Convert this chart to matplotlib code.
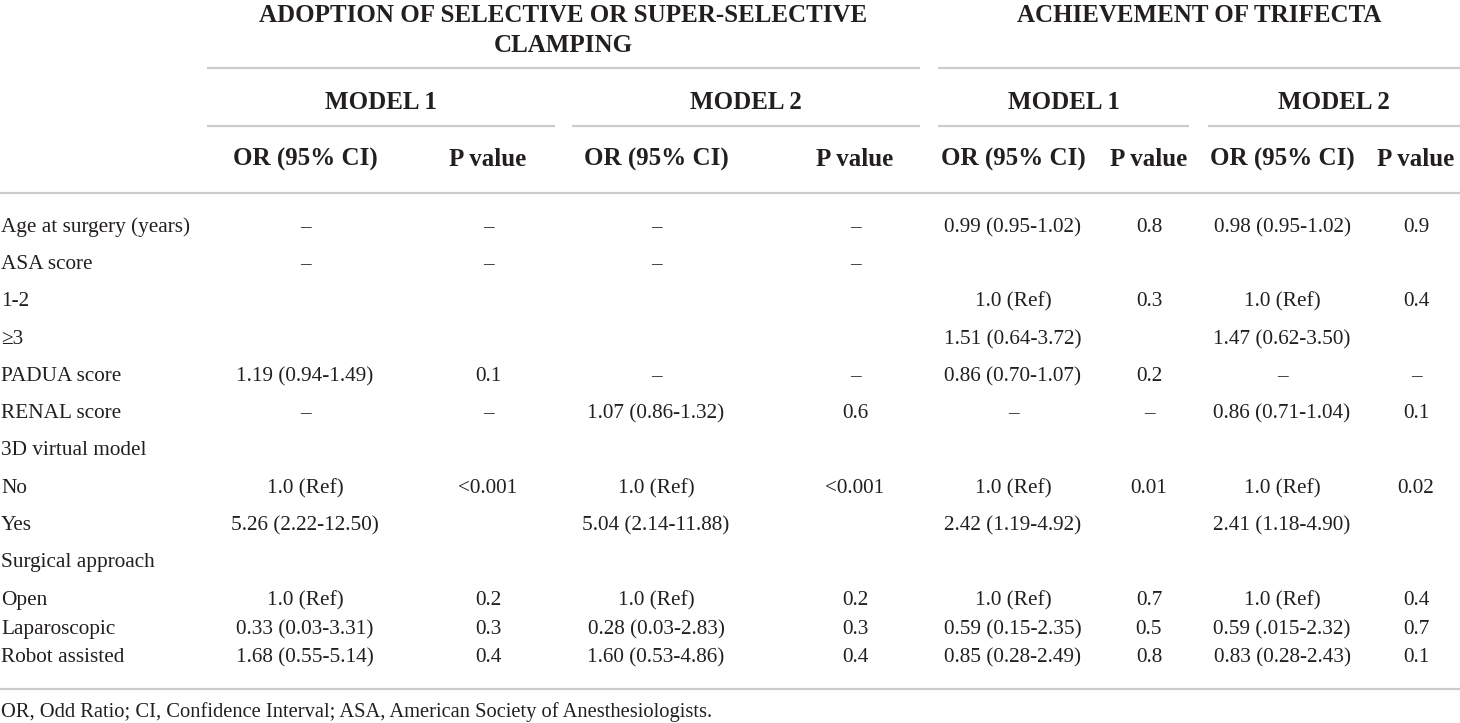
import matplotlib
matplotlib.use("Agg")
import matplotlib.pyplot as plt

plt.rcParams['font.family'] = ['Liberation Serif', 'DejaVu Serif']

# table content
row_labels = ["Age at surgery (years)", "ASA score", "1-2", "≥3", "PADUA score",
              "RENAL score", "3D virtual model", "No", "Yes", "Surgical approach",
              "Open", "Laparoscopic", "Robot assisted"]

sel_m1_or = ["–", "–", "", "", "1.19 (0.94-1.49)", "–", "", "1.0 (Ref)",
             "5.26 (2.22-12.50)", "", "1.0 (Ref)", "0.33 (0.03-3.31)", "1.68 (0.55-5.14)"]
sel_m1_p = ["–", "–", "", "", "0.1", "–", "", "<0.001", "", "", "0.2", "0.3", "0.4"]
sel_m2_or = ["–", "–", "", "", "–", "1.07 (0.86-1.32)", "", "1.0 (Ref)",
             "5.04 (2.14-11.88)", "", "1.0 (Ref)", "0.28 (0.03-2.83)", "1.60 (0.53-4.86)"]
sel_m2_p = ["–", "–", "", "", "–", "0.6", "", "<0.001", "", "", "0.2", "0.3", "0.4"]
tri_m1_or = ["0.99 (0.95-1.02)", "", "1.0 (Ref)", "1.51 (0.64-3.72)", "0.86 (0.70-1.07)",
             "–", "", "1.0 (Ref)", "2.42 (1.19-4.92)", "", "1.0 (Ref)",
             "0.59 (0.15-2.35)", "0.85 (0.28-2.49)"]
tri_m1_p = ["0.8", "", "0.3", "", "0.2", "–", "", "0.01", "", "", "0.7", "0.5", "0.8"]
tri_m2_or = ["0.98 (0.95-1.02)", "", "1.0 (Ref)", "1.47 (0.62-3.50)", "–",
             "0.86 (0.71-1.04)", "", "1.0 (Ref)", "2.41 (1.18-4.90)", "", "1.0 (Ref)",
             "0.59 (.015-2.32)", "0.83 (0.28-2.43)"]
tri_m2_p = ["0.9", "", "0.4", "", "–", "0.1", "", "0.02", "", "", "0.4", "0.7", "0.1"]

group_titles = ["ADOPTION OF SELECTIVE OR SUPER-SELECTIVE", "CLAMPING", "ACHIEVEMENT OF TRIFECTA"]
model_titles = ["MODEL 1", "MODEL 2", "MODEL 1", "MODEL 2"]
col_titles = ["OR (95% CI)", "P value"] * 4
footnote = "OR, Odd Ratio; CI, Confidence Interval; ASA, American Society of Anesthesiologists."

columns = [sel_m1_or, sel_m1_p, sel_m2_or, sel_m2_p, tri_m1_or, tri_m1_p, tri_m2_or, tri_m2_p]

# layout (pixel units, y = baseline)
W, H = 1460, 723
col_x = [305, 488, 656, 855, 1013, 1149, 1282, 1416]
row_base = [232, 269, 306, 344, 381, 418, 455, 493, 530, 567, 605, 634, 662]
group_spans = [(207, 920), (938, 1460)]
model_spans = [(207, 555), (572, 920), (938, 1189), (1208, 1460)]

txt = '#231f20'
rule = '#cccccc'
hfs = 18
bfs = 15.3

fig = plt.figure(figsize=(W / 100, H / 100), dpi=100)
ax = fig.add_axes([0, 0, 1, 1])
ax.set_xlim(0, W)
ax.set_ylim(H, 0)
ax.axis('off')

def head(x, y, s):
    ax.text(x, y, s, ha='center', va='baseline', fontsize=hfs,
            fontweight='bold', color=txt)

# group headers
head(sum(group_spans[0]) / 2, 22, group_titles[0])
head(sum(group_spans[0]) / 2, 52, group_titles[1])
head(sum(group_spans[1]) / 2, 22, group_titles[2])
for x0, x1 in group_spans:
    ax.plot([x0, x1], [68, 68], color=rule, lw=1.6, solid_capstyle='butt')

# model headers
for (x0, x1), t in zip(model_spans, model_titles):
    head((x0 + x1) / 2, 109, t)
    ax.plot([x0, x1], [126, 126], color=rule, lw=1.6, solid_capstyle='butt')

# column headers
for x, t in zip(col_x, col_titles):
    head(x, 166, t)

ax.plot([0, W], [193, 193], color=rule, lw=1.6)

# body
for y, lab in zip(row_base, row_labels):
    ax.text(1, y, lab, ha='left', va='baseline', fontsize=bfs, color=txt)
for x, col in zip(col_x, columns):
    for y, val in zip(row_base, col):
        if val:
            ax.text(x, y, val, ha='center', va='baseline', fontsize=bfs, color=txt)

ax.plot([0, W], [689, 689], color=rule, lw=1.6)
ax.text(1, 717, footnote, ha='left', va='baseline', fontsize=14.8, color=txt)

fig.savefig("out.png", dpi=100)
